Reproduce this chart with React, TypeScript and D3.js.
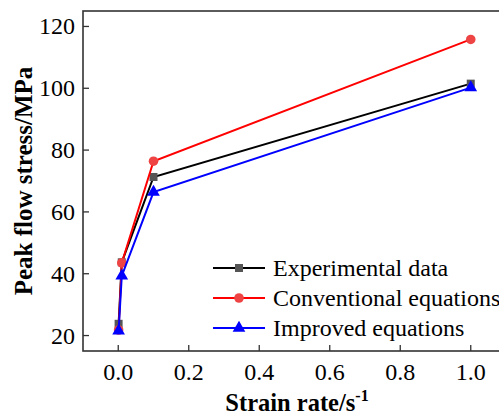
import React from "react";
import * as d3 from "d3";

const strainRates = [0.001, 0.01, 0.1, 1];
const experimental = [23.8, 43.7, 71.3, 101.5];
const conventional = [21.8, 43.5, 76.4, 115.8];
const improved = [21.5, 39.3, 66.4, 100.2];
const xTicks = [0, 0.2, 0.4, 0.6, 0.8, 1.0];
const yTicks = [20, 40, 60, 80, 100, 120];
const seriesNames = ["Experimental data", "Conventional equations", "Improved equations"];

const W = 499, H = 416;
const left = 83, right = 506, top = 11, bottom = 351;
const FONT = "'Liberation Serif', 'Times New Roman', serif";

const series = [
  { name: seriesNames[0], values: experimental, line: "#000000", fill: "#555555", marker: "square" },
  { name: seriesNames[1], values: conventional, line: "#ff0000", fill: "#ee4444", marker: "circle" },
  { name: seriesNames[2], values: improved, line: "#0000ff", fill: "#0000ff", marker: "triangle" },
];

function Marker({ type, x, y, fill }: { type: string; x: number; y: number; fill: string }) {
  if (type === "square") return <rect x={x - 4} y={y - 4} width={8} height={8} fill={fill} />;
  if (type === "circle") return <circle cx={x} cy={y} r={4.8} fill={fill} />;
  const p = d3.symbol().type(d3.symbolTriangle).size(70)();
  return <path d={p || ""} transform={`translate(${x},${y})`} fill={fill} />;
}

export default function App() {
  const x = d3.scaleLinear().domain([-0.1, 1.1]).range([left, right]);
  const y = d3.scaleLinear().domain([15, 125]).range([bottom, top]);
  const line = d3.line<number>().x((_, i) => x(strainRates[i])).y((d) => y(d));
  const legX = 213, legY = [268, 298, 328];

  return (
    <svg width={W} height={H} style={{ position: "absolute", left: 0, top: 0, background: "#fff" }}>
      <rect x={0} y={0} width={W} height={H} fill="#fff" />
      {/* frame */}
      <rect x={left} y={top} width={right - left} height={bottom - top} fill="none" stroke="#333" strokeWidth={1.6} />
      {/* ticks */}
      {xTicks.map((t) => (
        <g key={"x" + t}>
          <line x1={x(t)} x2={x(t)} y1={bottom} y2={bottom - 6} stroke="#333" strokeWidth={1.3} />
          <text x={x(t)} y={380} textAnchor="middle" fontFamily={FONT} fontSize={24}>
            {d3.format(".1f")(t)}
          </text>
        </g>
      ))}
      {yTicks.map((t) => (
        <g key={"y" + t}>
          <line x1={left} x2={left + 6} y1={y(t)} y2={y(t)} stroke="#333" strokeWidth={1.3} />
          <text x={75} y={y(t) + 8} textAnchor="end" fontFamily={FONT} fontSize={24}>
            {t}
          </text>
        </g>
      ))}
      {/* axis titles */}
      <text x={297} y={411} textAnchor="middle" fontFamily={FONT} fontSize={24.5} fontWeight="bold">
        Strain rate/s<tspan dy={-10} fontSize={16}>-1</tspan>
      </text>
      <text
        transform={`translate(32, ${(top + bottom) / 2}) rotate(-90)`}
        textAnchor="middle"
        fontFamily={FONT}
        fontSize={25}
        fontWeight="bold"
      >
        Peak flow stress/MPa
      </text>
      {/* series */}
      {series.map((s) => (
        <g key={s.name}>
          <path d={line(s.values) || ""} fill="none" stroke={s.line} strokeWidth={2} />
          {s.values.map((v, i) => (
            <Marker key={i} type={s.marker} x={x(strainRates[i])} y={y(v)} fill={s.fill} />
          ))}
        </g>
      ))}
      {/* legend */}
      {series.map((s, i) => (
        <g key={"leg" + i}>
          <line x1={legX} x2={legX + 52} y1={legY[i]} y2={legY[i]} stroke={s.line} strokeWidth={2} />
          <Marker type={s.marker} x={legX + 26} y={legY[i]} fill={s.fill} />
          <text x={273} y={legY[i] + 8} fontFamily={FONT} fontSize={24}>
            {s.name}
          </text>
        </g>
      ))}
    </svg>
  );
}
